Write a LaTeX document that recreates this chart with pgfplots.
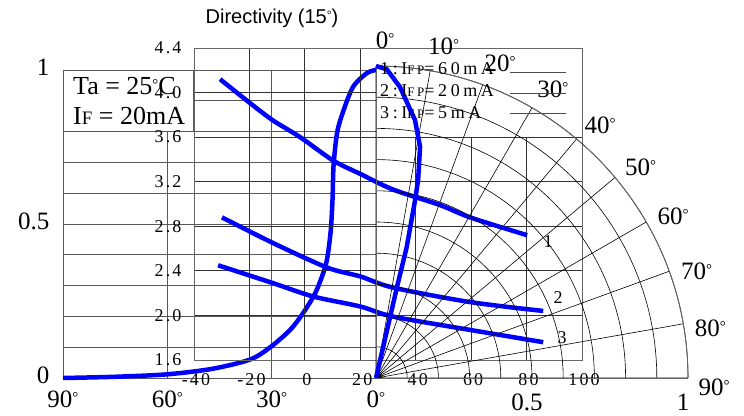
\documentclass[border=0pt]{standalone}
\usepackage{fontspec}
\usepackage{pgfplots}
\pgfplotsset{compat=1.18}
\usepgfplotslibrary{polar}
\setmainfont{Liberation Serif}
\newfontfamily\sans{Liberation Sans}
\newfontfamily\spaced[LetterSpace=12]{Liberation Serif}
\newfontfamily\spacedwide[LetterSpace=20]{Liberation Serif}
\newcommand\bigfont{\fontsize{25}{25}\selectfont}
\newcommand\med{\spaced\fontsize{18}{18}\selectfont}
\newcommand\dg{{\fontsize{15}{15}\selectfont\raisebox{5pt}{°}}}

\begin{document}
\begin{tikzpicture}[x=1pt,y=1pt]
\useasboundingbox (0,0) rectangle (744,415);

% left half: relative intensity against angle, 90 to 0 degrees
\begin{axis}[
  at={(63pt,37pt)}, anchor=south west,
  scale only axis, width=313pt, height=308pt, clip=false,
  xmin=0, xmax=90, x dir=reverse, ymin=0, ymax=1,
  xtick={0,30,60,90}, xticklabels={0\dg,30\dg,60\dg,90\dg},
  ytick={0,0.1,0.2,0.3,0.4,0.5,0.6,0.7,0.8,0.9,1},
  yticklabels={0,,,,,0.5,,,,,1},
  grid=major, tick style={draw=none},
  major grid style={black!65, line width=0.9pt},
  axis line style={black!65, line width=0.9pt},
  tick label style={font=\bigfont},
  xticklabel style={yshift=-9pt},
  yticklabel style={xshift=-10pt, yshift=3pt},
  /pgf/number format/assume math mode=true,
]
\fill[white] (axis cs:90,0.8) rectangle (axis cs:52.6,1);
\draw[black!65, line width=0.9pt] (axis cs:90,0.8) rectangle (axis cs:52.6,1);
\addplot[blue, line width=4.5pt, smooth] coordinates {
  (90,0) (75,0.004) (60,0.012) (47,0.03) (36.2,0.06) (30.4,0.1)
  (24.7,0.156) (21,0.21) (17.5,0.275) (15.2,0.34) (14,0.39) (13,0.48)
  (12.5,0.58) (12.2,0.69) (11.2,0.795) (9.6,0.86) (6.6,0.945) (2.6,0.99) (0,1)};
\end{axis}

% forward voltage against ambient temperature
\begin{axis}[
  at={(194pt,55pt)}, anchor=south west,
  scale only axis, width=388pt, height=312pt,
  xmin=-40, xmax=100, ymin=1.6, ymax=4.4,
  xtick={-40,-20,0,20,40,60,80,100},
  ytick={1.6,2.0,2.4,2.8,3.2,3.6,4.0,4.4},
  yticklabel style={xshift=-9pt, /pgf/number format/.cd, fixed, fixed zerofill, precision=1},
  grid=major, tick style={draw=none},
  major grid style={black!80, line width=0.8pt},
  axis line style={black!60, line width=0.9pt},
  tick label style={font=\med},
  xticklabel style={yshift=-10pt, xshift=2pt},
  /pgf/number format/assume math mode=true,
]
\fill[white] (axis cs:25.8,3.6) rectangle (axis cs:100,4.4);
\draw[black!60, line width=0.9pt] (axis cs:-40,4.4) -- (axis cs:100,4.4) -- (axis cs:100,1.6);
\addplot[blue, line width=4.5pt, smooth] coordinates {
  (-30.6,4.12) (-20,3.91) (-11.5,3.75) (-1.7,3.60) (10.2,3.39) (20,3.27)
  (31.8,3.13) (48.8,2.99) (59.6,2.88) (80.2,2.72)};
\addplot[blue, line width=4.5pt, smooth] coordinates {
  (-29.9,2.88) (-11.5,2.65) (8,2.43) (20,2.35) (31.8,2.25) (59.6,2.12) (86,2.04)};
\addplot[blue, line width=4.5pt, smooth] coordinates {
  (-31.3,2.45) (-11.5,2.29) (3,2.17) (20,2.08) (31.8,1.99) (59.6,1.87) (86,1.76)};
\end{axis}

% right half: polar directivity (angle written as 90 - off-axis angle)
\begin{polaraxis}[
  at={(376pt,37pt)}, anchor=origin,
  scale only axis, width=624pt, height=624pt, clip=false,
  xmin=0, xmax=90, ymin=0, ymax=1,
  xtick={0,10,20,30,40,50,60,70,80,90},
  xticklabels={90\dg,80\dg,70\dg,60\dg,50\dg,40\dg,30\dg,20\dg,10\dg,0\dg},
  ytick={0.1,0.2,0.3,0.4,0.5,0.6,0.7,0.8,0.9,1},
  yticklabels={,,,,0.5,,,,,1},
  grid=major, tick style={draw=none},
  major grid style={black, line width=0.6pt},
  axis line style={black!60, line width=0.9pt},
  tick label style={font=\bigfont},
  xticklabel style={anchor=center, shift={(\tick:26pt)}, shift={(\tick-90:9pt)}},
  yticklabel style={anchor=north, yshift=-12pt, xshift=-5pt},
  /pgf/number format/assume math mode=true,
]
\addplot[blue, line width=4.5pt] coordinates {
  (90,1) (88,0.99) (85.3,0.936) (81.4,0.836) (79.2,0.754) (78,0.649)
  (77.6,0.584) (76.8,0.43) (77,0.3) (77,0.15) (77,0)};
\end{polaraxis}

\node[font=\sans\fontsize{20}{20}\selectfont] at (272,397) {Directivity (15{\fontsize{12}{12}\selectfont\raisebox{4pt}{°}})};
\node[anchor=base west, inner sep=0pt, font=\fontsize{26}{26}\selectfont] at (73,320) {Ta = 25\dg C};
\node[anchor=base west, inner sep=0pt, font=\fontsize{26}{26}\selectfont] at (73,290) {I{\fontsize{19}{19}\selectfont F} = 20mA};
\node[anchor=base west, inner sep=0pt, font=\spacedwide\fontsize{18}{18}\selectfont] at (380,340) {1:I{\fontsize{13}{13}\selectfont FP}=60mA};
\node[anchor=base west, inner sep=0pt, font=\spacedwide\fontsize{18}{18}\selectfont] at (380,318) {2:I{\fontsize{13}{13}\selectfont FP}=20mA};
\node[anchor=base west, inner sep=0pt, font=\spacedwide\fontsize{18}{18}\selectfont] at (380,296) {3:I{\fontsize{13}{13}\selectfont FP}=5mA};
\foreach \yy in {343,322,302}{ \draw[black!70, line width=0.8pt] (510,\yy) -- (566,\yy); }
\node[font=\med] at (548,173) {1};
\node[font=\med] at (558,117) {2};
\node[font=\med] at (562,77) {3};
\end{tikzpicture}
\end{document}
